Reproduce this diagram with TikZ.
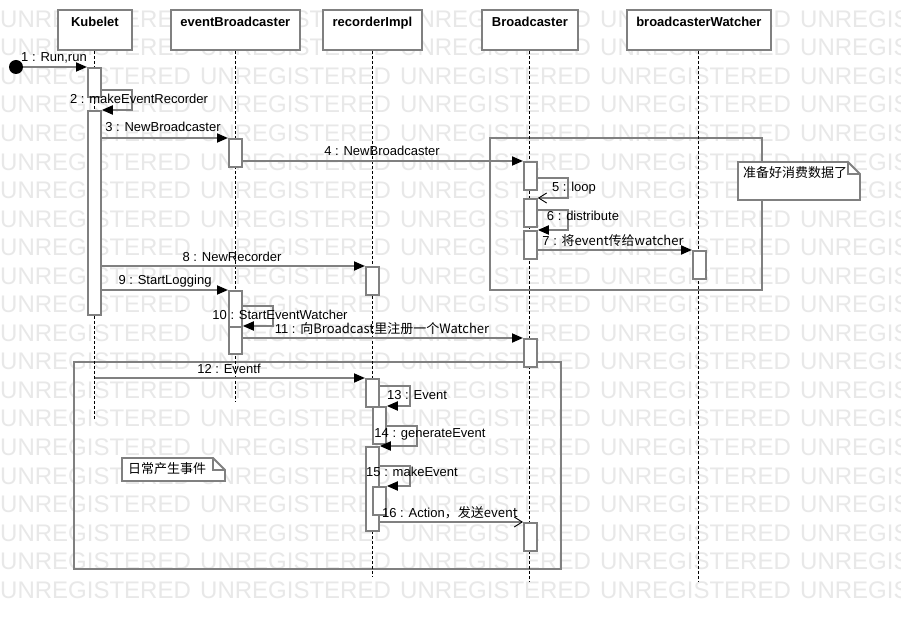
\documentclass[tikz,border=0pt]{standalone}
\usepackage{fontspec}
\setmainfont{Liberation Sans}
\newfontfamily\cjk{Noto Sans CJK SC}
\usetikzlibrary{arrows.meta,calc}
\definecolor{lg}{RGB}{128,128,128}
\definecolor{wm}{RGB}{232,232,232}
\begin{document}
\begin{tikzpicture}[x=1pt,y=-1pt,
  hdr/.style={draw=lg,fill=white,line width=1.8pt,minimum height=40pt,anchor=north west,inner sep=0},
  hdrtxt/.style={font=\fontsize{13}{15}\selectfont\bfseries,anchor=base,inner sep=0},
  life/.style={draw=black,line width=0.9pt,dash pattern=on 3pt off 2pt},
  act/.style={draw=lg,fill=white,line width=1.8pt,minimum width=13pt,anchor=north west,inner sep=0},
  msg/.style={draw=lg,line width=1.8pt,-{Triangle[length=11pt,width=9pt,color=black]}},
  amsg/.style={draw=lg,line width=1.8pt,-{Straight Barb[length=8pt,width=10pt,color=black,line width=0.9pt]}},
  lbl/.style={font=\fontsize{13}{15}\selectfont,inner sep=0,anchor=base},
  frm/.style={draw=lg,line width=1.8pt},
  notebox/.style={draw=lg,fill=white,line width=1.8pt},
  notetxt/.style={font=\fontsize{13}{15}\selectfont\cjk,inner sep=0,anchor=west},
  wmark/.style={text=wm,font=\fontsize{24}{28}\selectfont,anchor=west,inner sep=0},
]
\useasboundingbox (0,0) rectangle (901,620);
\fill[white] (0,0) rectangle (901,620);
% watermark
\foreach \k in {0,...,20}{
  \foreach \xx in {0,200,400,600,800}{
    \node[wmark] (w-\k-\xx) at (\xx,{19+28.55*\k}) {UNREGISTERED};
  }
}
% frames
\draw[frm] (490,138) rectangle (762,290);
\draw[frm] (74,362) rectangle (561,569);
% headers
\node[hdr,minimum width=74pt] (kub) at (57,9) {};
\node[hdr,minimum width=129pt] (eb) at (170,9) {};
\node[hdr,minimum width=99pt] (rec) at (322,9) {};
\node[hdr,minimum width=96pt] (bc) at (481,9) {};
\node[hdr,minimum width=144pt] (bw) at (626,9) {};
\node[hdrtxt] (kubt) at ($(kub.north)+(0,18)$) {Kubelet};
\node[hdrtxt] (ebt) at ($(eb.north)+(0,18)$) {eventBroadcaster};
\node[hdrtxt] (rect) at ($(rec.north)+(0,18)$) {recorderImpl};
\node[hdrtxt] (bct) at ($(bc.north)+(0,18)$) {Broadcaster};
\node[hdrtxt] (bwt) at ($(bw.north)+(0,18)$) {broadcasterWatcher};
% lifelines
\draw[life] (kub.south) -- ++(0,369);
\draw[life] (eb.south) -- ++(0,351);
\draw[life] (rec.south) -- ++(0,526);
\draw[life] (bc.south) -- ++(0,531);
\draw[life] (bw.south) -- ++(0,531);
% activations
\node[act,minimum height=29pt] (kA1) at (87,67) {};
\node[act,minimum height=204pt] (kA2) at (87,110) {};
\node[act,minimum height=28pt] (eA1) at (228,138) {};
\node[act,minimum height=36pt] (eA2) at (228,290) {};
\node[act,minimum height=27pt] (eA3) at (228,326) {};
\node[act,minimum height=28pt] (bA1) at (523,161) {};
\node[act,minimum height=28pt] (bA2) at (523,198) {};
\node[act,minimum height=28pt] (bA3) at (523,230) {};
\node[act,minimum height=28pt] (wA1) at (692,250) {};
\node[act,minimum height=28pt] (rA1) at (365,266) {};
\node[act,minimum height=28pt] (bA4) at (523,338) {};
\node[act,minimum height=28pt] (rA2) at (365,378) {};
\node[act,minimum height=37pt] (rA3) at (372,406) {};
\node[act,minimum height=84pt] (rA4) at (365,446) {};
\node[act,minimum height=28pt] (rA5) at (372,486) {};
\node[act,minimum height=28pt] (bA5) at (523,522) {};
% start
\node[circle,fill=black,minimum size=14pt,inner sep=0] (start) at (16,67) {};
% messages
\draw[msg] (start) -- (kA1.north west);
\draw[msg] ($(kA1.north east)+(0,23)$) -- ++(30,0) |- (kA2.north east);
\draw[msg] (kA2.east |- eA1.north west) -- (eA1.north west);
\draw[msg] (eA1.east |- bA1.north west) -- (bA1.north west);
\draw[amsg] ($(bA1.north east)+(0,17)$) -- ++(30,0) |- (bA2.north east);
\draw[msg] ($(bA2.north east)+(0,12)$) -- ++(30,0) |- (bA3.north east);
\draw[msg] (bA3.east |- wA1.north west) -- (wA1.north west);
\draw[msg] (kA2.east |- rA1.north west) -- (rA1.north west);
\draw[msg] (kA2.east |- eA2.north west) -- (eA2.north west);
\draw[msg] ($(eA2.north east)+(0,16)$) -- ++(30,0) |- (eA3.north east);
\draw[msg] (eA3.east |- bA4.north west) -- (bA4.north west);
\draw[msg] (kub.south |- rA2.north west) -- (rA2.north west);
\draw[msg] ($(rA2.north east)+(0,8)$) -- ++(30,0) |- (rA3.north east);
\draw[msg] ($(rA3.north east)+(0,20)$) -- ++(30,0) |- (rA4.north east);
\draw[msg] ($(rA4.north east)+(0,20)$) -- ++(30,0) |- (rA5.north east);
\draw[amsg] (rA4.east |- bA5.north west) -- (bA5.north west);
% labels
\node[lbl] (l1) at (54,62) {1 : Run,run};
\node[lbl] (l2) at (139,104) {2 : makeEventRecorder};
\node[lbl] (l3) at (163,132) {3 : NewBroadcaster};
\node[lbl] (l4) at (382,156) {4 : NewBroadcaster};
\node[lbl] (l5) at (574,192) {5 : loop};
\node[lbl] (l6) at (583,221) {6 : distribute};
\node[lbl] (l7) at (613,245) {7 : \cjk{将}event\cjk{传给}watcher};
\node[lbl] (l8) at (232,261) {8 : NewRecorder};
\node[lbl] (l9) at (165,284) {9 : StartLogging};
\node[lbl] (l10) at (280,319) {10 : StartEventWatcher};
\node[lbl] (l11) at (382,333) {11 : \cjk{向}Broadcast\cjk{里注册一个}Watcher};
\node[lbl] (l12) at (229,373) {12 : Eventf};
\node[lbl] (l13) at (417,399) {13 : Event};
\node[lbl] (l14) at (430,437) {14 : generateEvent};
\node[lbl] (l15) at (412,476) {15 : makeEvent};
\node[lbl] (l16) at (450,517) {16 : Action\cjk{，发送}event};
% notes
\draw[notebox] (738,162) -- (848,162) -- (860,174) -- (860,200) -- (738,200) -- cycle;
\draw[lg,line width=1.2pt] (848,162) -- (848,174) -- (860,174);
\node[notetxt] (n1) at (743,173) {准备好消费数据了};
\draw[notebox] (122,458) -- (213,458) -- (225,470) -- (225,481) -- (122,481) -- cycle;
\draw[lg,line width=1.2pt] (213,458) -- (213,470) -- (225,470);
\node[notetxt] (n2) at (128,469) {日常产生事件};
\end{tikzpicture}
\end{document}
